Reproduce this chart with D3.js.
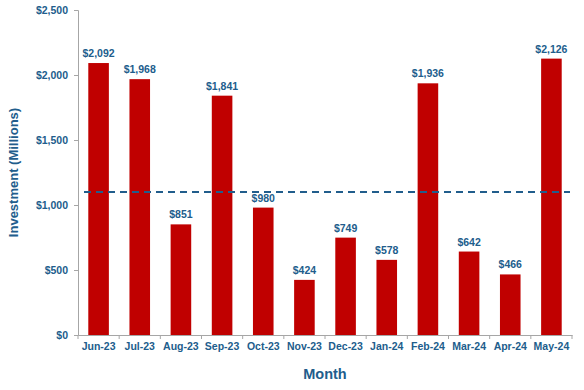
<!DOCTYPE html>
<html>
<head>
<meta charset="utf-8">
<script src="https://cdn.jsdelivr.net/npm/d3@7"></script>
<style>
  body { margin: 0; background: #fff; }
  text { font-family: "Liberation Sans", Arial, sans-serif; font-weight: bold; }
</style>
</head>
<body>
<svg id="chart" width="584" height="390"></svg>
<script>
/* Monthly investment bar chart with reference line */
var months = ['Jun-23', 'Jul-23', 'Aug-23', 'Sep-23', 'Oct-23', 'Nov-23',
              'Dec-23', 'Jan-24', 'Feb-24', 'Mar-24', 'Apr-24', 'May-24'];
var investment = [2092, 1968, 851, 1841, 980, 424, 749, 578, 1936, 642, 466, 2126];
var refLevel = 1100;
var yTicks = [0, 500, 1000, 1500, 2000, 2500];

var blue = '#215d8c', red = '#c00000', grey = '#a6a6a6';
var margin = { top: 10, right: 12, bottom: 55, left: 78 };
var W = 584, H = 390;
var svg = d3.select('#chart');
var g = svg.append('g').attr('transform', 'translate(' + margin.left + ',' + margin.top + ')');
var iw = W - margin.left - margin.right, ih = H - margin.top - margin.bottom;

var x = d3.scaleBand().domain(months).range([0, iw]).paddingInner(0.5).paddingOuter(0.25);
var y = d3.scaleLinear().domain([0, 2500]).range([ih, 0]);
var fmt = function (v) { return '$' + d3.format(',')(v); };

// y axis
var ya = g.append('g').call(d3.axisLeft(y).tickValues(yTicks).tickFormat(fmt).tickSize(4).tickPadding(6));
ya.select('.domain').attr('stroke', grey);
ya.selectAll('line').attr('stroke', grey);
ya.selectAll('text').attr('fill', blue).style('font-size', '10.5px');

// x axis with ticks on band boundaries
var xa = g.append('g').attr('transform', 'translate(0,' + ih + ')')
  .call(d3.axisBottom(x).tickSize(0).tickPadding(8));
xa.select('.domain').attr('stroke', grey);
xa.selectAll('text').attr('fill', blue).style('font-size', '10.5px');
g.append('g').selectAll('line').data(d3.range(months.length + 1)).join('line')
  .attr('x1', function (i) { return i * iw / months.length; })
  .attr('x2', function (i) { return i * iw / months.length; })
  .attr('y1', ih).attr('y2', ih + 4).attr('stroke', grey);

// bars
g.selectAll('rect.bar').data(investment).join('rect')
  .attr('class', 'bar')
  .attr('x', function (d, i) { return x(months[i]); })
  .attr('width', x.bandwidth())
  .attr('y', function (d) { return y(d); })
  .attr('height', function (d) { return ih - y(d); })
  .attr('fill', red);

// value labels
g.selectAll('text.val').data(investment).join('text')
  .attr('class', 'val')
  .attr('x', function (d, i) { return x(months[i]) + x.bandwidth() / 2; })
  .attr('y', function (d) { return y(d) - 6; })
  .attr('text-anchor', 'middle')
  .attr('fill', blue).style('font-size', '10.5px')
  .text(fmt);

// reference line
g.append('line')
  .attr('x1', 6).attr('x2', iw - 2)
  .attr('y1', y(refLevel)).attr('y2', y(refLevel))
  .attr('stroke', blue).attr('stroke-width', 2).attr('stroke-dasharray', '7,5');

// axis titles
svg.append('text').attr('x', margin.left + iw / 2).attr('y', 379)
  .attr('text-anchor', 'middle').attr('fill', blue).style('font-size', '14.5px').text('Month');
svg.append('text').attr('transform', 'translate(18,' + (margin.top + ih / 2) + ') rotate(-90)')
  .attr('text-anchor', 'middle').attr('fill', blue).style('font-size', '13px').text('Investment (Millions)');
</script>
</body>
</html>
